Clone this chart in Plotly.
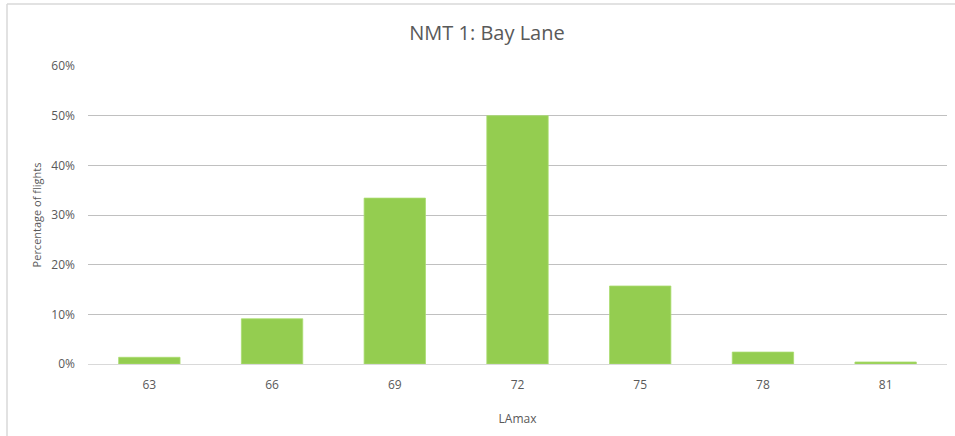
import plotly.graph_objects as go

categories = ["63", "66", "69", "72", "75", "78", "81"]
percent_flights = [0.0135, 0.091, 0.334, 0.50, 0.157, 0.024, 0.004]
y_ticks = [0, 0.1, 0.2, 0.3, 0.4, 0.5, 0.6]
y_tick_labels = ["0%", "10%", "20%", "30%", "40%", "50%", "60%"]

font_family = "Open Sans, Liberation Sans, sans-serif"
text_color = "#595959"

fig = go.Figure(
    go.Bar(
        x=categories,
        y=percent_flights,
        marker=dict(color="#94cd50", line=dict(color="#a9dc6e", width=0.8)),
        hoverinfo="x+y",
    )
)

fig.update_layout(
    width=955,
    height=436,
    margin=dict(l=88, r=8, t=66, b=72),
    paper_bgcolor="white",
    plot_bgcolor="white",
    bargap=0.5,
    showlegend=False,
    font=dict(family=font_family, color=text_color, size=12),
    title=dict(
        text="NMT 1: Bay Lane",
        x=487 / 955,
        xanchor="center",
        xref="container",
        y=1 - 33 / 436,
        yanchor="middle",
        font=dict(size=20, color=text_color, family=font_family),
    ),
    shapes=[
        dict(type="line", xref="paper", yref="paper",
             x0=-81 / 859, x1=1.2, y0=1 + 62 / 298, y1=1 + 62 / 298,
             line=dict(color="#d9d9d9", width=1.5)),
        dict(type="line", xref="paper", yref="paper",
             x0=-81 / 859, x1=-81 / 859, y0=1 + 62 / 298, y1=-0.5,
             line=dict(color="#d9d9d9", width=1.5)),
    ],
)

fig.update_xaxes(
    type="category",
    showgrid=False,
    showline=True,
    linecolor="#d9d9d9",
    linewidth=1,
    ticks="",
    ticklabelstandoff=10,
    tickfont=dict(size=12, color=text_color),
    title=dict(text="LAmax", font=dict(size=12, color=text_color), standoff=22),
)

fig.update_yaxes(
    range=[0, 0.6],
    tickvals=y_ticks,
    ticktext=y_tick_labels,
    showgrid=True,
    gridcolor="#c0c0c0",
    gridwidth=1,
    zeroline=False,
    showline=False,
    ticks="",
    ticklabelstandoff=12,
    tickfont=dict(size=12, color=text_color),
    title=dict(text="Percentage of flights", font=dict(size=11, color=text_color), standoff=7),
)

fig.write_html(
    "out.html",
    config={"displayModeBar": False},
    post_script="document.body.style.margin='0';document.body.style.overflow='hidden';",
)
